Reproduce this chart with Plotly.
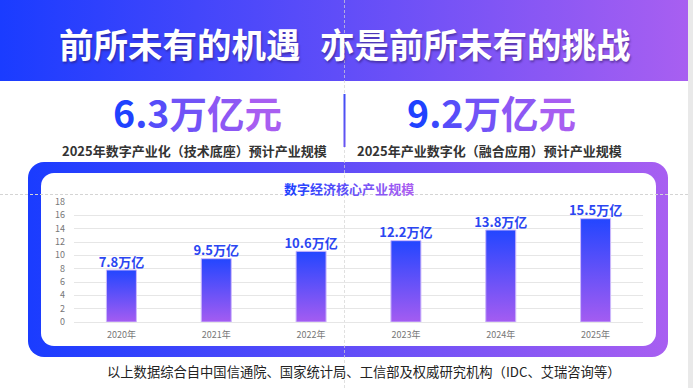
import base64
import plotly.graph_objects as go

# ---------------- data ----------------
years = ["2020年", "2021年", "2022年", "2023年", "2024年", "2025年"]
values = [7.8, 9.5, 10.6, 12.2, 13.8, 15.5]
value_labels = ["7.8万亿", "9.5万亿", "10.6万亿", "12.2万亿", "13.8万亿", "15.5万亿"]
y_ticks = [0, 2, 4, 6, 8, 10, 12, 14, 16, 18]

headline = "前所未有的机遇\u2002\u200a亦是前所未有的挑战"
big_left = "6.3万亿元"
big_right = "9.2万亿元"
sub_left = "2025年数字产业化（技术底座）预计产业规模"
sub_right = "2025年产业数字化（融合应用）预计产业规模"
chart_title = "数字经济核心产业规模"
footer = "以上数据综合自中国信通院、国家统计局、工信部及权威研究机构（IDC、艾瑞咨询等）"

# ---------------- layout constants ----------------
W, H = 693, 388
L, R, T, B = 74, 50, 202, 66
PW, PH = W - L - R, H - T - B
FONT = "Noto Sans CJK SC, Noto Sans, sans-serif"
BLUE = (0x1f, 0x42, 0xff)
PURPLE = (0xa8, 0x5e, 0xf1)


def px(x):
    return (x - L) / PW


def py(y):
    return (H - B - y) / PH


def grad_text(s, c0=BLUE, c1=PURPLE):
    n = len(s)
    out = []
    for i, ch in enumerate(s):
        t = i / (n - 1) if n > 1 else 0
        c = tuple(round(a + (b - a) * t) for a, b in zip(c0, c1))
        out.append('<span style="color:#%02x%02x%02x">%s</span>' % (c + (ch,)))
    return "".join(out)


svg = f'''<svg xmlns="http://www.w3.org/2000/svg" width="{W}" height="{H}" viewBox="0 0 {W} {H}">
<defs>
<linearGradient id="g" x1="0" y1="0" x2="1" y2="0">
<stop offset="0" stop-color="#1a3cff"/><stop offset="1" stop-color="#a85ff1"/>
</linearGradient>
<linearGradient id="d" x1="0" y1="0" x2="0" y2="1">
<stop offset="0" stop-color="#3f4df5"/><stop offset="1" stop-color="#6a55f2"/>
</linearGradient>
</defs>
<rect x="0" y="0" width="{W}" height="{H}" fill="#ffffff"/>
<rect x="0" y="0" width="688" height="81" fill="url(#g)"/>
<rect x="688" y="0" width="5" height="{H}" fill="#e9e9e9"/>
<rect x="28" y="162" width="640" height="195" rx="16" ry="16" fill="url(#g)"/>
<rect x="41" y="173" width="615" height="173" rx="13" ry="13" fill="#ffffff"/>
<line x1="344.5" y1="0" x2="344.5" y2="{H}" stroke="#d4d4d4" stroke-width="1" stroke-dasharray="3,2" opacity="0.7"/>
<line x1="0" y1="194.5" x2="688" y2="194.5" stroke="#d4d4d4" stroke-width="1" stroke-dasharray="3,2"/>
<rect x="343.5" y="94" width="2" height="53" fill="url(#d)"/>
</svg>'''
bg_src = "data:image/svg+xml;base64," + base64.b64encode(svg.encode("utf-8")).decode("ascii")

fig = go.Figure()

# bars as gradient-filled shapes built from the data
half = 15 / (PW / len(years))
for i, v in enumerate(values):
    fig.add_trace(go.Scatter(
        x=[i - half, i - half, i + half, i + half, i - half],
        y=[0, v, v, 0, 0],
        mode="lines",
        fill="toself",
        fillgradient=dict(type="vertical",
                          colorscale=[[0, "#a45cf1"], [1, "#2346ff"]]),
        line=dict(color="#cdb9fb", width=1),
        hoverinfo="skip",
        showlegend=False,
    ))

# value labels
fig.add_trace(go.Scatter(
    x=list(range(len(years))), y=values, mode="text",
    text=value_labels, textposition="top center",
    textfont=dict(family=FONT, size=13, color="#2b46f2", weight=700),
    hoverinfo="skip", showlegend=False,
))

fig.update_layout(
    width=W, height=H,
    margin=dict(l=L, r=R, t=T, b=B, pad=0),
    paper_bgcolor="#ffffff",
    plot_bgcolor="rgba(0,0,0,0)",
    font=dict(family=FONT),
    xaxis=dict(range=[-0.5, len(years) - 0.5], tickvals=list(range(len(years))),
               ticktext=years, showgrid=False, zeroline=False, showline=False,
               ticks="", ticklabelstandoff=6,
               tickfont=dict(family=FONT, size=9, color="#777777"), fixedrange=True),
    yaxis=dict(range=[0, 18], tickvals=y_ticks, showgrid=True, gridcolor="#e6e6e6",
               gridwidth=1, zeroline=True, zerolinecolor="#e6e6e6", zerolinewidth=1,
               showline=False, ticks="", ticklabelstandoff=8,
               tickfont=dict(family=FONT, size=9, color="#777777"), fixedrange=True),
    images=[dict(source=bg_src, xref="paper", yref="paper",
                 x=px(0), y=py(0), sizex=W / PW, sizey=H / PH,
                 xanchor="left", yanchor="top", sizing="stretch", layer="below")],
)

ann = [
    dict(text=headline, x=px(344), y=py(43),
         font=dict(family=FONT, size=34.5, color="#ffffff", weight=700,
                   shadow="1px 2px 2px rgba(40,20,90,0.45)")),
    dict(text=grad_text(big_left), x=px(197), y=py(111),
         font=dict(family=FONT, size=37.5, weight=700)),
    dict(text=grad_text(big_right), x=px(491), y=py(111),
         font=dict(family=FONT, size=37.5, weight=700)),
    dict(text=sub_left, x=px(194), y=py(150),
         font=dict(family=FONT, size=13, color="#333333", weight=700)),
    dict(text=sub_right, x=px(489), y=py(150),
         font=dict(family=FONT, size=13, color="#333333", weight=700)),
    dict(text=grad_text(chart_title), x=px(349), y=py(188),
         font=dict(family=FONT, size=13, weight=700)),
    dict(text=footer, x=px(364), y=py(371),
         font=dict(family=FONT, size=13.3, color="#222222")),
]
for a in ann:
    a.update(xref="paper", yref="paper", xanchor="center", yanchor="middle",
             showarrow=False)
    fig.add_annotation(**a)

fig.write_html("out.html",
               config={"displayModeBar": False, "staticPlot": True},
               post_script="document.body.style.margin='0';document.body.style.overflow='hidden';")
